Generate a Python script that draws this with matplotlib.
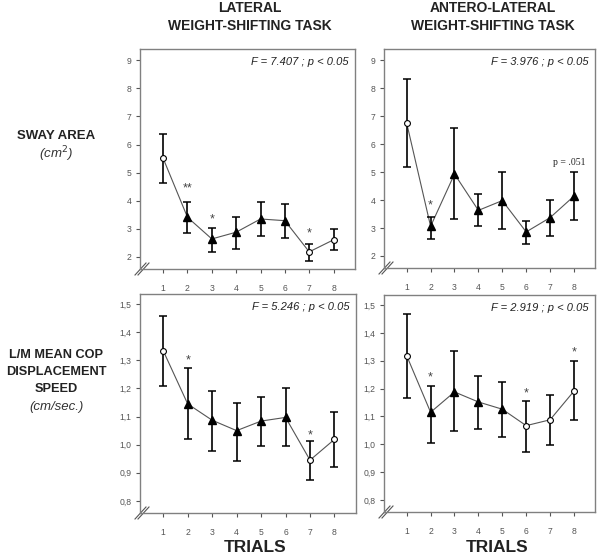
import numpy as np
import matplotlib
matplotlib.use("Agg")
import matplotlib.pyplot as plt

plt.rcParams['font.family'] = ['Liberation Sans', 'DejaVu Sans']

trials = [1, 2, 3, 4, 5, 6, 7, 8]

# sway area, lateral task
sway_lat = [5.51, 3.41, 2.64, 2.88, 3.35, 3.29, 2.18, 2.61]
sway_lat_hi = [6.37, 3.97, 3.04, 3.41, 3.95, 3.88, 2.45, 2.98]
sway_lat_lo = [4.64, 2.84, 2.18, 2.28, 2.73, 2.67, 1.86, 2.25]
sway_lat_open = [1, 0, 0, 0, 0, 0, 1, 1]
sway_lat_stars = [(2, '**', 4.45), (3, '*', 3.35), (7, '*', 2.85)]

# sway area, antero-lateral task
sway_ant = [6.75, 3.06, 4.93, 3.63, 3.98, 2.86, 3.37, 4.14]
sway_ant_hi = [8.34, 3.39, 6.59, 4.20, 5.01, 3.24, 4.00, 5.01]
sway_ant_lo = [5.17, 2.62, 3.33, 3.06, 2.95, 2.44, 2.72, 3.27]
sway_ant_open = [1, 0, 0, 0, 0, 0, 0, 0]
sway_ant_stars = [(2, '*', 3.8)]

# L/M mean COP displacement speed, lateral task
speed_lat = [1.334, 1.145, 1.087, 1.050, 1.084, 1.097, 0.945, 1.019]
speed_lat_hi = [1.456, 1.272, 1.192, 1.147, 1.171, 1.203, 1.013, 1.115]
speed_lat_lo = [1.210, 1.022, 0.978, 0.943, 0.995, 0.995, 0.876, 0.921]
speed_lat_open = [1, 0, 0, 0, 0, 0, 1, 1]
speed_lat_stars = [(2, '*', 1.30), (7, '*', 1.034)]

# L/M mean COP displacement speed, antero-lateral task
speed_ant = [1.318, 1.115, 1.188, 1.152, 1.126, 1.067, 1.088, 1.191]
speed_ant_hi = [1.468, 1.209, 1.334, 1.247, 1.225, 1.156, 1.177, 1.300]
speed_ant_lo = [1.168, 1.005, 1.046, 1.055, 1.028, 0.974, 0.999, 1.087]
speed_ant_open = [1, 0, 0, 0, 0, 1, 1, 1]
speed_ant_stars = [(2, '*', 1.239), (6, '*', 1.183), (8, '*', 1.33)]

stats = ['F = 7.407 ; p < 0.05', 'F = 3.976 ; p < 0.05',
         'F = 5.246 ; p < 0.05', 'F = 2.919 ; p < 0.05']

sway_ticks = [2, 3, 4, 5, 6, 7, 8, 9]
speed_ticks = [0.8, 0.9, 1.0, 1.1, 1.2, 1.3, 1.4, 1.5]

fig = plt.figure(figsize=(6, 5.6), dpi=100)

W, H = 600.0, 560.0
def box(l, t, r, b):
    return [l / W, 1 - b / H, (r - l) / W, (b - t) / H]

panels = [
    (box(140, 49, 355, 269), sway_lat, sway_lat_lo, sway_lat_hi, sway_lat_open, sway_lat_stars, (1.57, 9.4), sway_ticks),
    (box(384, 49, 595, 268), sway_ant, sway_ant_lo, sway_ant_hi, sway_ant_open, sway_ant_stars, (1.57, 9.4), sway_ticks),
    (box(140, 294, 356, 513), speed_lat, speed_lat_lo, speed_lat_hi, speed_lat_open, speed_lat_stars, (0.757, 1.536), speed_ticks),
    (box(384, 295, 595, 512), speed_ant, speed_ant_lo, speed_ant_hi, speed_ant_open, speed_ant_stars, (0.757, 1.536), speed_ticks),
]

axes = []
for i, (pos, m, lo, hi, op, stars, ylim, yt) in enumerate(panels):
    ax = fig.add_axes(pos)
    axes.append(ax)
    m = np.array(m); lo = np.array(lo); hi = np.array(hi)
    x = np.array(trials)
    ax.plot(x, m, color='#555555', lw=0.8, zorder=2)
    ax.errorbar(x, m, yerr=[m - lo, hi - m], fmt='none', ecolor='black',
                elinewidth=1.2, capsize=3, capthick=1.1, zorder=3)
    op = np.array(op, dtype=bool)
    ax.plot(x[~op], m[~op], '^', ms=5.5, color='black', zorder=4)
    ax.plot(x[op], m[op], 'o', ms=4.2, mfc='white', mec='black', mew=0.8, zorder=4)
    for t, s, y in stars:
        ax.text(t, y, s, ha='center', va='center', fontsize=9, color='#444444')
    ax.set_xlim(0.05, 8.88)
    ax.set_ylim(*ylim)
    ax.set_xticks(trials)
    ax.set_yticks(yt)
    if yt is speed_ticks:
        ax.set_yticklabels([('%.1f' % v).replace('.', ',') for v in yt])
    ax.tick_params(axis='both', labelsize=6.2, colors='#555555', length=3, width=0.8)
    ax.tick_params(axis='x', pad=8)
    ax.tick_params(axis='y', pad=3)
    for sp in ax.spines.values():
        sp.set_color('#808080')
        sp.set_linewidth(1.0)
    ax.text(0.97, 0.965, stats[i], transform=ax.transAxes, ha='right', va='top',
            fontsize=8, style='italic', color='#222222')
    # axis break marks at the corner
    aw = pos[2] * W; ah = pos[3] * H
    for off in (0, 3):
        ax.plot([(-5 + off) / aw, (6 + off) / aw], [-6 / ah, 6 / ah],
                transform=ax.transAxes, color='#555555', lw=0.8, clip_on=False)

axes[1].text(7.8, 5.35, 'p = .051', ha='center', va='center', fontsize=7,
             family='Liberation Serif', color='#222222')

# column titles
fig.text(250 / W, 1 - 8 / H, 'LATERAL', ha='center', va='center', fontsize=10, weight='bold', color='#222222')
fig.text(250 / W, 1 - 26 / H, 'WEIGHT-SHIFTING TASK', ha='center', va='center', fontsize=10, weight='bold', color='#222222')
fig.text(493 / W, 1 - 8 / H, 'ANTERO-LATERAL', ha='center', va='center', fontsize=10, weight='bold', color='#222222')
fig.text(493 / W, 1 - 26 / H, 'WEIGHT-SHIFTING TASK', ha='center', va='center', fontsize=10, weight='bold', color='#222222')

# row labels
fig.text(56 / W, 1 - 136 / H, 'SWAY AREA', ha='center', va='center', fontsize=9.5, weight='bold', color='#222222')
fig.text(56 / W, 1 - 154 / H, '(cm$^2$)', ha='center', va='center', fontsize=9.5, style='italic', color='#333333')
for k, s in enumerate(['L/M MEAN COP', 'DISPLACEMENT', 'SPEED']):
    fig.text(56 / W, 1 - (355 + 17 * k) / H, s, ha='center', va='center', fontsize=9.2, weight='bold', color='#222222')
fig.text(56 / W, 1 - 407 / H, '(cm/sec.)', ha='center', va='center', fontsize=9.5, style='italic', color='#333333')

# x labels
fig.text(255 / W, 1 - 548 / H, 'TRIALS', ha='center', va='center', fontsize=12.5, weight='bold', color='#222222')
fig.text(497 / W, 1 - 548 / H, 'TRIALS', ha='center', va='center', fontsize=12.5, weight='bold', color='#222222')

fig.savefig('out.png', dpi=100)
